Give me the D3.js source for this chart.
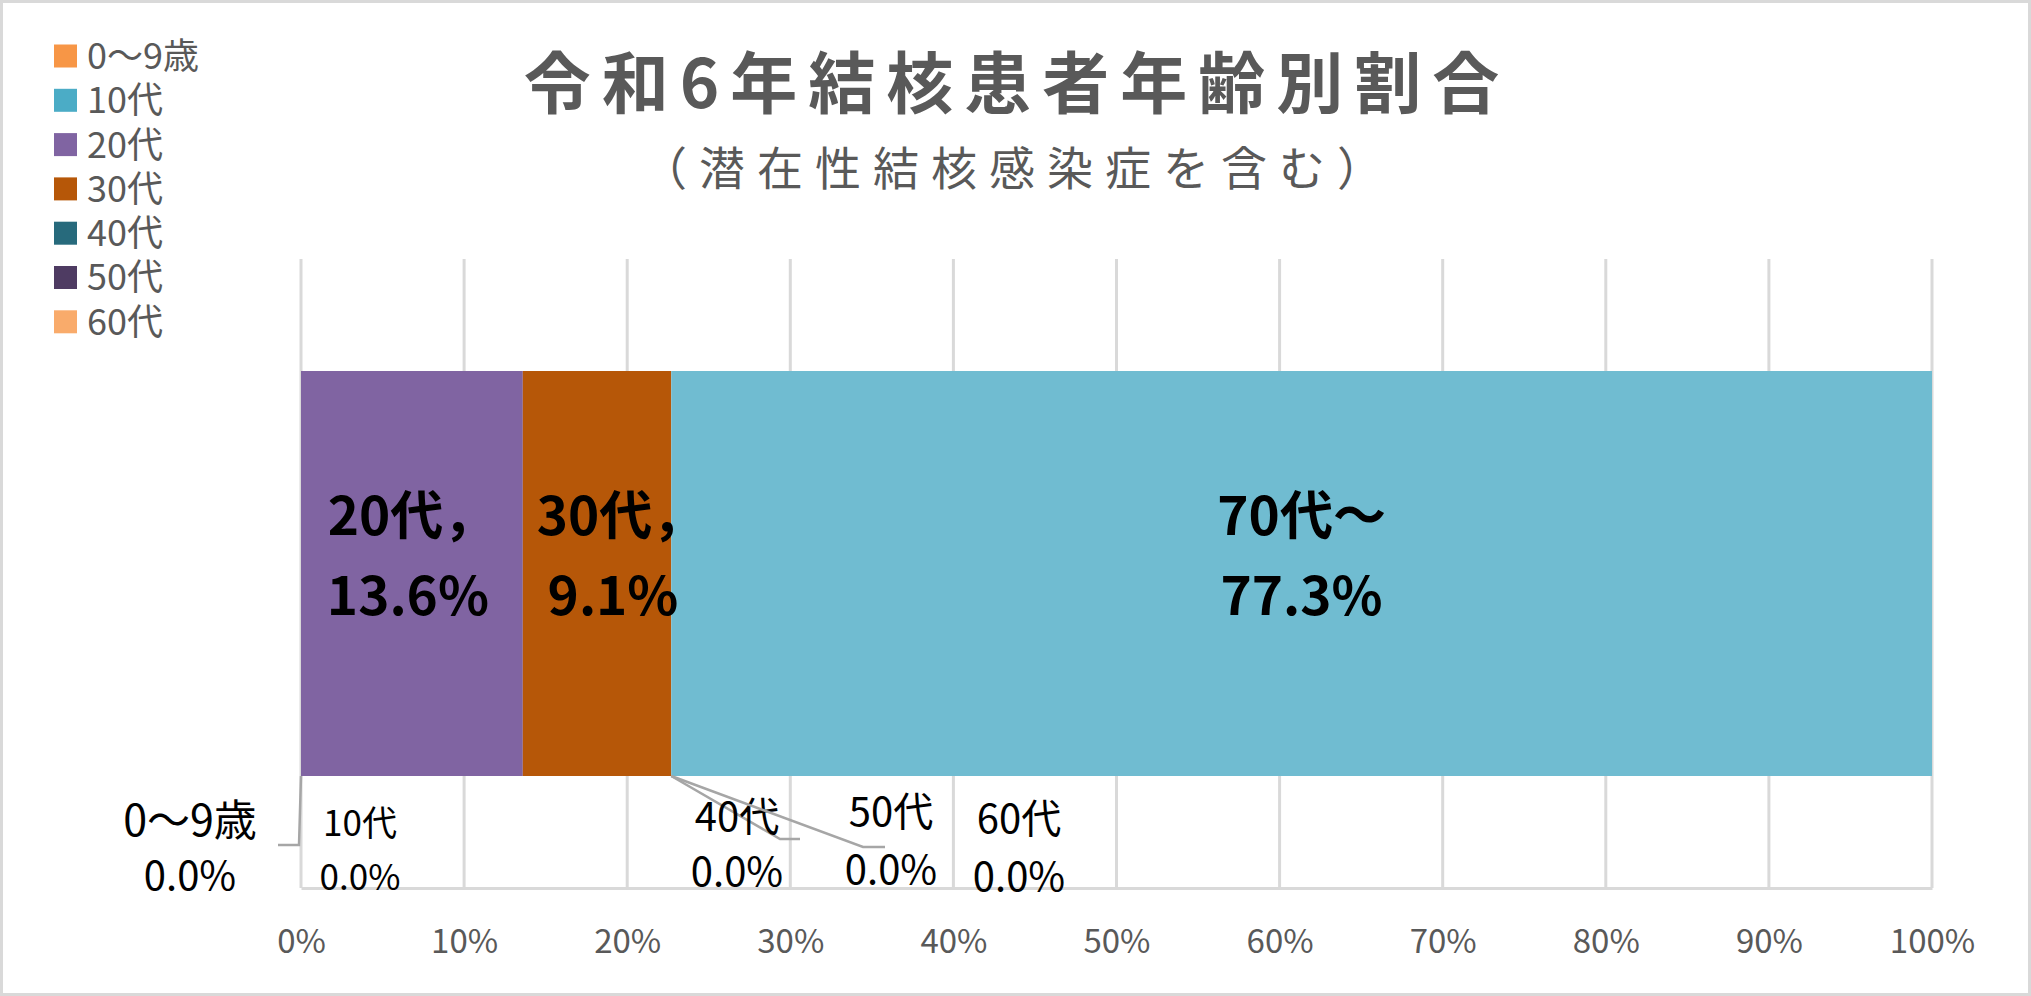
<!DOCTYPE html>
<html lang="ja">
<head>
<meta charset="utf-8">
<script src="https://cdn.jsdelivr.net/npm/d3@7"></script>
<style>
  html, body { margin: 0; padding: 0; background: #fff; }
  svg { display: block; font-family: "Noto Sans CJK JP", "Noto Sans", sans-serif; }
</style>
</head>
<body>
<div id="chart"></div>
<script>
// ---- data ----
const categories = ["0〜9歳", "10代", "20代", "30代", "40代", "50代", "60代", "70代〜"];
const values = [0.0, 0.0, 13.6, 9.1, 0.0, 0.0, 0.0, 77.3];
const colors = ["#f79646", "#4bacc6", "#8064a2", "#b65708", "#276a7c", "#4e3b62", "#f9ab6b", "#70bcd1"];
const legendCategories = ["0〜9歳", "10代", "20代", "30代", "40代", "50代", "60代"];
const tickValues = [0, 10, 20, 30, 40, 50, 60, 70, 80, 90, 100];
const titleText = "令和6年結核患者年齢別割合";
const subtitleText = "（潜在性結核感染症を含む）";

// ---- layout (not data) ----
const W = 2031, H = 996;
const plot = { left: 301, right: 1932, top: 259, bottom: 888, barTop: 371, barBottom: 776 };
// big labels inside segments: line1 suffix, dx line1, dx line2
const bigLabels = {
  "20代": { sep: "，", dx1: 0, dx2: -4 },
  "30代": { sep: "，", dx1: 24, dx2: 16 },
  "70代〜": { sep: "", dx1: 0, dx2: 0 }
};
// small labels for zero-value segments: position of text centre, font sizes, leader elbow
const smallLabels = {
  "0〜9歳": { cx: 190, y1: 821, y2: 876, fs1: 43, fs2: 40, leader: [[299, 845], [278, 845]] },
  "10代":   { cx: 360, y1: 823, y2: 877, fs1: 35, fs2: 35, leader: null },
  "40代":   { cx: 737, y1: 817, y2: 872, fs1: 40, fs2: 40, leader: [[780, 839], [800, 839]] },
  "50代":   { cx: 891, y1: 812, y2: 870, fs1: 40, fs2: 40, leader: [[863, 847], [885, 847]] },
  "60代":   { cx: 1019, y1: 819, y2: 877, fs1: 40, fs2: 40, leader: null }
};

const svg = d3.select("#chart").append("svg")
  .attr("width", W).attr("height", H);

svg.append("rect").attr("x", 0).attr("y", 0).attr("width", W).attr("height", H).attr("fill", "#fff");

// outer border
svg.append("rect")
  .attr("x", 1.5).attr("y", 1.5).attr("width", W - 3).attr("height", H - 3)
  .attr("fill", "none").attr("stroke", "#d9d9d9").attr("stroke-width", 3);

const x = d3.scaleLinear().domain([0, 100]).range([plot.left, plot.right]);

// gridlines
svg.append("g").selectAll("line").data(tickValues).join("line")
  .attr("x1", d => x(d)).attr("x2", d => x(d))
  .attr("y1", plot.top).attr("y2", plot.bottom)
  .attr("stroke", "#d9d9d9").attr("stroke-width", 3);

// axis
const axisG = svg.append("g").attr("transform", `translate(0,${plot.bottom})`)
  .call(d3.axisBottom(x).tickValues(tickValues).tickSize(0).tickPadding(0).tickFormat(d => d + "%"));
axisG.select(".domain").attr("stroke", "#d9d9d9").attr("stroke-width", 3);
axisG.selectAll("text")
  .attr("y", 53).attr("dy", "0.36em")
  .attr("fill", "#595959").attr("font-size", 33)
  .attr("font-family", "\"Noto Sans CJK JP\", sans-serif");

// stacked bar
const row = {};
categories.forEach((c, i) => row[c] = values[i]);
const stack = d3.stack().keys(categories)([row]);
const colorOf = d3.scaleOrdinal().domain(categories).range(colors);

svg.append("g").selectAll("rect").data(stack).join("rect")
  .attr("x", d => x(d[0][0]))
  .attr("width", d => x(d[0][1]) - x(d[0][0]))
  .attr("y", plot.barTop)
  .attr("height", plot.barBottom - plot.barTop)
  .attr("fill", d => colorOf(d.key));

// big labels
const bigG = svg.append("g");
stack.forEach((s, i) => {
  const lab = bigLabels[s.key];
  if (!lab) return;
  const cx = (x(s[0][0]) + x(s[0][1])) / 2;
  const t = bigG.append("text")
    .attr("text-anchor", "middle")
    .attr("font-size", 53).attr("font-weight", "bold").attr("fill", "#000");
  t.append("tspan").attr("x", cx + lab.dx1).attr("y", 516).attr("dy", "0.36em").text(s.key + lab.sep);
  t.append("tspan").attr("x", cx + lab.dx2).attr("y", 596).attr("dy", "0.36em").text(d3.format(".1f")(values[i]) + "%");
});

// small labels with leader lines
const smallG = svg.append("g");
stack.forEach((s, i) => {
  const lab = smallLabels[s.key];
  if (!lab) return;
  if (lab.leader) {
    const start = [x(s[0][1]), plot.barBottom];
    const pts = [start].concat(lab.leader);
    smallG.append("path")
      .attr("d", d3.line()(pts))
      .attr("fill", "none").attr("stroke", "#a6a6a6").attr("stroke-width", 2.5);
  }
  const t = smallG.append("text")
    .attr("text-anchor", "middle").attr("fill", "#000");
  t.append("tspan").attr("x", lab.cx).attr("y", lab.y1).attr("dy", "0.36em")
    .attr("font-size", lab.fs1).text(s.key);
  t.append("tspan").attr("x", lab.cx).attr("y", lab.y2).attr("dy", "0.36em")
    .attr("font-size", lab.fs2).text(d3.format(".1f")(values[i]) + "%");
});

// title
svg.append("text")
  .attr("x", 1012 + 5).attr("y", 84).attr("dy", "0.36em")
  .attr("text-anchor", "middle")
  .attr("font-size", 67).attr("font-weight", "bold").attr("fill", "#595959")
  .attr("letter-spacing", 11)
  .text(titleText);

svg.append("text")
  .attr("x", 1012 + 6).attr("y", 168).attr("dy", "0.36em")
  .attr("text-anchor", "middle")
  .attr("font-size", 46).attr("fill", "#595959")
  .attr("letter-spacing", 12)
  .text(subtitleText);

// legend
const legendG = svg.append("g");
const legendRows = legendG.selectAll("g").data(legendCategories).join("g")
  .attr("transform", (d, i) => `translate(54,${56 + i * 44.3})`);
legendRows.append("rect")
  .attr("x", 0).attr("y", -11.5).attr("width", 23).attr("height", 23)
  .attr("fill", d => colorOf(d));
legendRows.append("text")
  .attr("x", 33).attr("y", 0).attr("dy", "0.36em")
  .attr("font-size", 36).attr("fill", "#595959")
  .text(d => d);
</script>
</body>
</html>
